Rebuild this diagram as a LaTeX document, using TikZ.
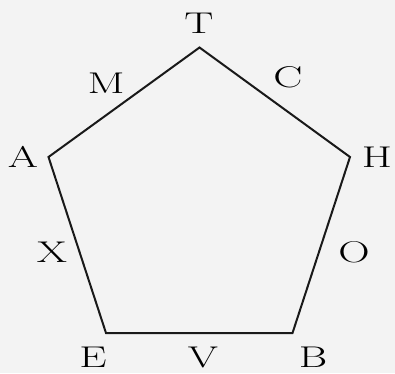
\documentclass[tikz,border=0pt]{standalone}
\usepackage{fontspec}
\setmainfont{Latin Modern Roman}
\usepackage{graphicx}
\definecolor{paper}{RGB}{243,243,243}
\tikzset{
  lbl/.style={inner sep=0pt, font=\fontsize{30}{30}\selectfont},
  edge/.style={line width=2pt, line join=miter, black!90}
}
\newcommand{\widelbl}[1]{\scalebox{1.45}[1]{#1}}
\begin{document}
\begin{tikzpicture}[x=1pt,y=-1pt]
\fill[paper] (0,0) rectangle (395,373);
\useasboundingbox (0,0) rectangle (395,373);
\coordinate (T) at (199.5,47.5);
\coordinate (H) at (350,157);
\coordinate (B) at (292.5,333);
\coordinate (E) at (106,333);
\coordinate (A) at (48.5,157);
\draw[edge] (T) -- (H) -- (B) -- (E) -- (A) -- cycle;
\node[lbl] (lT) at (199,23) {\widelbl{T}};
\node[lbl] (lC) at (288,77) {\widelbl{C}};
\node[lbl] (lH) at (377,157) {\widelbl{H}};
\node[lbl] (lO) at (354,252) {\widelbl{O}};
\node[lbl] (lB) at (313,357.5) {\widelbl{B}};
\node[lbl] (lV) at (203,357) {\widelbl{V}};
\node[lbl] (lE) at (93,357.5) {\widelbl{E}};
\node[lbl] (lX) at (52,252) {\widelbl{X}};
\node[lbl] (lA) at (23,157) {\widelbl{A}};
\node[lbl] (lM) at (106,83) {\widelbl{M}};
\end{tikzpicture}
\end{document}
